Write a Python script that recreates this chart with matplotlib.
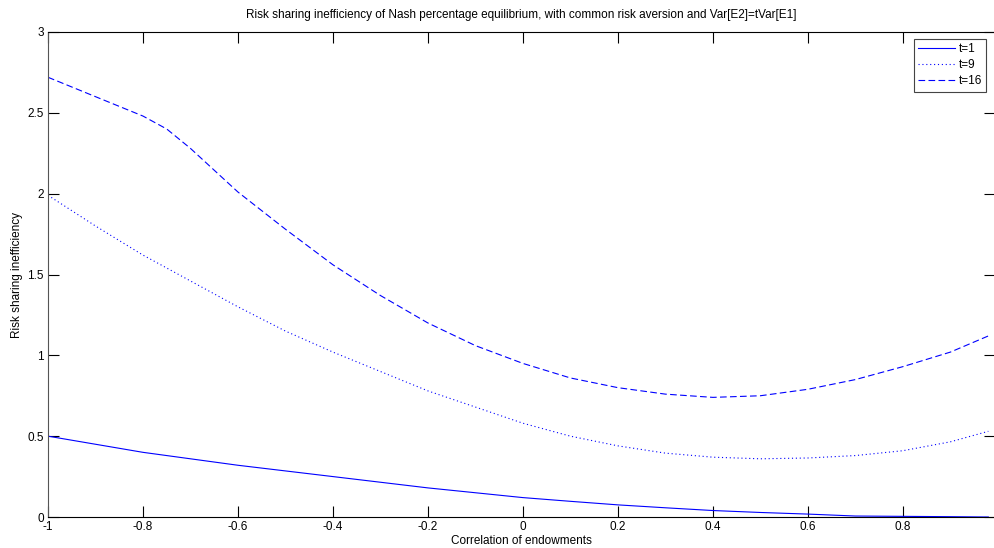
import matplotlib.pyplot as plt

plt.rcParams['font.family'] = ['Liberation Sans', 'DejaVu Sans']

# correlation values and inefficiency for each t
rho = [-1.0, -0.9, -0.8, -0.75, -0.7, -0.6, -0.5, -0.4, -0.3, -0.2, -0.1,
       0.0, 0.1, 0.2, 0.3, 0.4, 0.5, 0.6, 0.7, 0.8, 0.9, 0.98]
t1 = [0.50, 0.45, 0.40, 0.38, 0.36, 0.32, 0.285, 0.25, 0.215, 0.18, 0.15,
      0.12, 0.097, 0.075, 0.057, 0.04, 0.028, 0.018, 0.006, 0.004, 0.002, 0.0]
t9 = [1.99, 1.80, 1.62, 1.54, 1.46, 1.30, 1.15, 1.02, 0.90, 0.78, 0.68,
      0.58, 0.50, 0.44, 0.395, 0.37, 0.36, 0.365, 0.38, 0.41, 0.465, 0.53]
t16 = [2.72, 2.60, 2.48, 2.40, 2.28, 2.01, 1.78, 1.56, 1.37, 1.20, 1.06,
       0.95, 0.86, 0.80, 0.76, 0.74, 0.75, 0.79, 0.85, 0.93, 1.02, 1.12]

fig = plt.figure(figsize=(9.95, 5.48), dpi=100)
ax = fig.add_axes([48 / 995, 31 / 548, 947 / 995, 485 / 548])

ax.plot(rho, t1, color='blue', lw=0.8, label='t=1')
ax.plot(rho, t9, color='blue', lw=0.8, linestyle=(0, (1, 2.5)), label='t=9')
ax.plot(rho, t16, color='blue', lw=0.8, linestyle=(0, (6, 3)), label='t=16')

ax.set_xlim(-1, 0.994)
ax.set_ylim(0, 3)
ax.set_xticks([-1, -0.8, -0.6, -0.4, -0.2, 0, 0.2, 0.4, 0.6, 0.8])
ax.set_xticklabels(['-1', '-0.8', '-0.6', '-0.4', '-0.2', '0', '0.2', '0.4', '0.6', '0.8'])
ax.set_yticks([0, 0.5, 1, 1.5, 2, 2.5, 3])
ax.set_yticklabels(['0', '0.5', '1', '1.5', '2', '2.5', '3'])
ax.tick_params(direction='in', length=8, width=0.8, top=True, right=True,
               labelsize=8.5, pad=3)
for s in ax.spines.values():
    s.set_linewidth(0.8)
ax.spines['left'].set_color('#555555')

ax.set_title('Risk sharing inefficiency of Nash percentage equilibrium, with common risk aversion and Var[E2]=tVar[E1]',
             fontsize=8.5, pad=10)
ax.set_xlabel('Correlation of endowments', fontsize=8.5, labelpad=1.5)
ax.set_ylabel('Risk sharing inefficiency', fontsize=8.5, labelpad=3)

leg = ax.legend(loc='upper right', fontsize=8.5, fancybox=False, framealpha=1,
                edgecolor='#444444', handlelength=3.2, handletextpad=0.3,
                labelspacing=0.35, borderaxespad=0.6, borderpad=0.35,
                bbox_to_anchor=(0.9985, 1.0))
leg.get_frame().set_linewidth(0.8)

fig.savefig('out.png', dpi=100)
